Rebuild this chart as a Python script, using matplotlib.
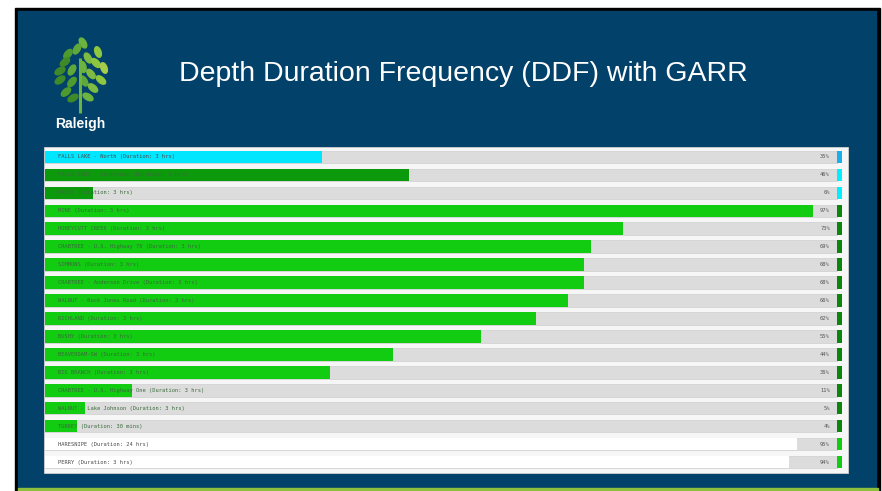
import matplotlib.pyplot as plt
from matplotlib.patches import Rectangle, Ellipse

# data
sites = ["FALLS LAKE - North", "FALLS LAKE - Southeast", "PASSE", "MINE",
         "HONEYCUTT CREEK", "CRABTREE - U.S. Highway 70", "SIMMONS",
         "CRABTREE - Anderson Drive", "WALNUT - Buck Jones Road", "RICHLAND",
         "BUSHY", "BEAVERDAM-SW", "BIG BRANCH", "CRABTREE - U.S. Highway One",
         "WALNUT - Lake Johnson", "TURKEY", "HARESNIPE", "PERRY"]
durations = ["3 hrs"] * 15 + ["30 mins", "24 hrs", "3 hrs"]
percent = [35, 46, 6, 97, 73, 69, 68, 68, 66, 62, 55, 44, 36, 11, 5, 4, 95, 94]
status = [0, 1, 1, 2, 2, 2, 2, 2, 2, 2, 2, 2, 2, 2, 2, 2, 3, 3]

fill_colors = {0: '#00E6FF', 1: '#0C9A0C', 2: '#12CC12', 3: '#FFFFFF'}
flag_colors = {0: '#1AAEEA', 1: '#00EEFF', 2: '#0B850B', 3: '#12CC12'}

W, H = 882, 491
fig = plt.figure(figsize=(W / 100, H / 100), dpi=100)
fig.patch.set_facecolor('white')

# background in pixel coordinates
bg = fig.add_axes([0, 0, 1, 1])
bg.set_xlim(0, W)
bg.set_ylim(H, 0)
bg.axis('off')
bg.add_patch(Rectangle((15, 8), 865, 483, color='black'))
bg.add_patch(Rectangle((18, 11), 858, 477, color='#02416A'))
bg.add_patch(Rectangle((18, 488), 860, 3, color='#8DBE3C'))
bg.add_patch(Rectangle((44, 147), 804, 326, color='#F6F6F6', ec='#D0D0D0', lw=0.6))

# logo (tree of leaves)
bg.plot([80, 80], [113, 58], color='#6DB33F', lw=2.2, solid_capstyle='butt')
leaves = [(83, 43, 60, '#6DB33F'), (77, 49, 120, '#5FA83A'), (98, 52, 70, '#8DC63F'),
          (68, 54, 130, '#4E9A2E'), (65, 62, 140, '#3F8A28'), (88, 58, 60, '#7DBB42'),
          (96, 63, 45, '#8DC63F'), (104, 68, 70, '#A6CE4A'), (83, 67, 80, '#6DB33F'),
          (72, 70, 120, '#5FA83A'), (60, 71, 150, '#3F8A28'), (91, 74, 50, '#7DBB42'),
          (84, 81, 60, '#5FA83A'), (72, 82, 130, '#4E9A2E'), (101, 80, 40, '#8DC63F'),
          (60, 80, 145, '#3F8A28'), (93, 88, 40, '#7DBB42'), (66, 92, 140, '#4E9A2E'),
          (88, 97, 30, '#6DB33F'), (73, 98, 150, '#3F8A28')]
for x, y, ang, c in leaves:
    bg.add_patch(Ellipse((x, y), 11, 6, angle=ang, color=c))
bg.text(80, 124, 'Raleigh', color='white', fontsize=10, fontweight='bold',
        family='Liberation Sans', ha='center', va='center')
bg.text(463, 74, 'Depth Duration Frequency (DDF) with GARR', color='white',
        fontsize=20.5, family='Liberation Sans', ha='center', va='center')

# bar panel
left_px, right_px, top_px, bot_px = 45, 848, 148, 471
ax = fig.add_axes([left_px / W, 1 - bot_px / H, (right_px - left_px) / W, (bot_px - top_px) / H])
ax.set_facecolor('none')
xmax = 100 * (right_px - left_px) / 792
ax.set_xlim(0, xmax)
ax.set_ylim(len(sites) - 0.5, -0.5)
ax.axis('off')

rows = list(range(len(sites)))
ax.barh(rows, [100] * len(sites), height=0.7, color='#DCDCDC',
        edgecolor='#C8C8C8', linewidth=0.4)
ax.barh(rows, percent, height=0.7, color=[fill_colors[s] for s in status])
ax.barh(rows, [0.65] * len(sites), left=100, height=0.7,
        color=[flag_colors[s] for s in status])

for i, (name, dur, p, s) in enumerate(zip(sites, durations, percent, status)):
    tc = '#4A4A4A' if s in (0, 3) else '#3C6A3C'
    ax.text(1.6, i, f'{name} (Duration: {dur})', fontsize=3.9, family='DejaVu Sans Mono',
            color=tc, va='center', ha='left')
    ax.text(99.1, i, f'{p}%', fontsize=3.9, family='DejaVu Sans Mono',
            color='#555555', va='center', ha='right')

fig.savefig('out.png', dpi=100, facecolor=fig.get_facecolor())
